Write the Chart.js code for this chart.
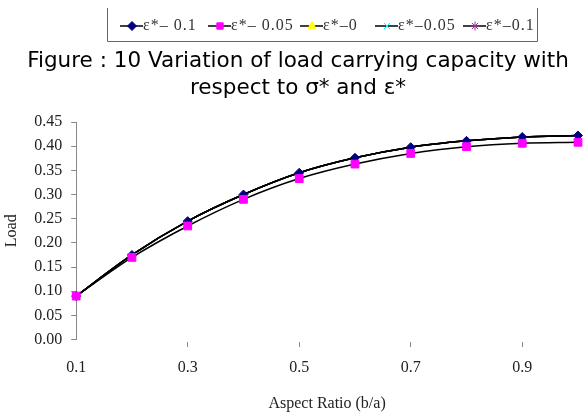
<!DOCTYPE html>
<html>
<head>
<meta charset="utf-8">
<script src="https://cdn.jsdelivr.net/npm/chart.js@4.4.0/dist/chart.umd.min.js"></script>
<style>
  html, body { margin: 0; background: #fff; }
  #wrap { width: 588px; height: 416px; }
</style>
</head>
<body>
<div id="wrap"><canvas id="loadChart"></canvas></div>
<script>
// aspect ratio (b/a) categories
const aspectRatios = ["0.1", "0.2", "0.3", "0.4", "0.5", "0.6", "0.7", "0.8", "0.9", "1.0"];
const seriesNames = ["\u03b5*\u2013 0.1", "\u03b5*\u2013 0.05", "\u03b5*\u20130", "\u03b5*\u20130.05", "\u03b5*\u20130.1"];
const titleLines = ["Figure : 10 Variation of load carrying capacity with", "respect to \u03c3* and \u03b5*"];

// load values
const loadEpsNeg010 = [0.090, 0.175, 0.245, 0.300, 0.345, 0.376, 0.398, 0.411, 0.419, 0.422];
const loadEpsNeg005 = [0.090, 0.170, 0.235, 0.290, 0.333, 0.363, 0.385, 0.399, 0.406, 0.408];
// these three sit under the upper curve, their markers are hidden
const loadEps000 = [0.090, 0.175, 0.245, 0.300, 0.345, 0.376, 0.398, 0.411, 0.419, 0.422];
const loadEps005 = [0.090, 0.175, 0.245, 0.300, 0.345, 0.376, 0.398, 0.411, 0.419, 0.422];
const loadEps010 = [0.090, 0.175, 0.245, 0.300, 0.345, 0.376, 0.398, 0.411, 0.419, 0.422];

const serif = "'Liberation Serif', 'Times New Roman', serif";

function series(label, data, style, color, radius, order) {
  return {
    label: label,
    data: data,
    borderColor: "#000",
    borderWidth: 1.5,
    cubicInterpolationMode: "monotone",
    pointStyle: style,
    pointRadius: radius,
    pointHoverRadius: radius,
    pointBackgroundColor: color,
    pointBorderColor: color,
    pointBorderWidth: 1,
    order: order
  };
}

// excel-like boxed legend row plus the figure caption above the plot
const legendAndCaption = {
  id: "legendAndCaption",
  afterDraw(chart) {
    const ctx = chart.ctx;
    ctx.save();
    ctx.strokeStyle = "#666";
    ctx.lineWidth = 1;
    ctx.beginPath();
    ctx.moveTo(107.5, 8);
    ctx.lineTo(107.5, 41.5);
    ctx.lineTo(537.5, 41.5);
    ctx.lineTo(537.5, 8);
    ctx.stroke();
    ctx.font = "16px " + serif;
    ctx.textBaseline = "middle";
    ctx.letterSpacing = "1px";
    const markerX = [132, 220, 312, 387, 475];
    const y = 26;
    chart.data.datasets.forEach((ds, i) => {
      const x = markerX[i];
      ctx.strokeStyle = "#000";
      ctx.lineWidth = 1.5;
      ctx.beginPath();
      ctx.moveTo(x - 12, y);
      ctx.lineTo(x + 11, y);
      ctx.stroke();
      ctx.fillStyle = ds.pointBackgroundColor;
      ctx.strokeStyle = ds.pointBorderColor;
      ctx.lineWidth = 1;
      Chart.helpers.drawPoint(ctx, { pointStyle: ds.pointStyle, radius: 4.5, borderWidth: 1 }, x, y);
      ctx.fillStyle = "#333";
      ctx.fillText(ds.label, x + 11, y);
    });
    ctx.letterSpacing = "0px";
    ctx.fillStyle = "#000";
    ctx.textAlign = "center";
    ctx.font = "21.5px 'DejaVu Sans', sans-serif";
    ctx.fillText(titleLines[0], 298, 61);
    ctx.fillText(titleLines[1], 298, 88);
    ctx.restore();
  }
};

const ctx = document.getElementById("loadChart").getContext("2d");

new Chart(ctx, {
  type: "line",
  data: {
    labels: aspectRatios,
    datasets: [
      series(seriesNames[0], loadEpsNeg010, "rectRot", "#000080", 4.5, 1),
      series(seriesNames[1], loadEpsNeg005, "rect", "#ff00ff", 5.5, 0),
      series(seriesNames[2], loadEps000, "triangle", "#ffff00", 2.5, 2),
      series(seriesNames[3], loadEps005, "crossRot", "#00ffff", 2.5, 3),
      series(seriesNames[4], loadEps010, "star", "#993399", 2.5, 4)
    ]
  },
  options: {
    responsive: true,
    maintainAspectRatio: false,
    animation: false,
    layout: { autoPadding: false, padding: { top: 122, right: 10, left: 2, bottom: 3 } },
    plugins: {
      legend: { display: false },
      tooltip: { enabled: false },
      title: { display: false }
    },
    scales: {
      x: {
        offset: false,
        border: { display: false },
        grid: {
          drawOnChartArea: false,
          tickLength: 19,
          tickBorderDash: [0, 2, 5, 60],
          color: c => (c.index > 0 && c.index % 2 === 0) ? "#888" : "rgba(0,0,0,0)"
        },
        ticks: {
          autoSkip: false,
          maxRotation: 0,
          padding: 0,
          color: "#222",
          font: { family: serif, size: 16 },
          callback: (v, i) => i % 2 === 0 ? aspectRatios[i] : ""
        },
        title: {
          display: true,
          text: "Aspect Ratio (b/a)",
          color: "#222",
          font: { family: serif, size: 16 },
          padding: { top: 16, bottom: 0 }
        }
      },
      y: {
        min: 0,
        max: 0.45,
        border: { color: "#888" },
        grid: { drawOnChartArea: false, tickLength: 5, color: "#888" },
        ticks: {
          stepSize: 0.05,
          padding: 9,
          color: "#222",
          font: { family: serif, size: 16 },
          callback: v => v.toFixed(2)
        },
        title: {
          display: true,
          text: "Load",
          color: "#222",
          font: { family: serif, size: 16 },
          padding: { top: 0, bottom: 4 }
        }
      }
    }
  },
  plugins: [legendAndCaption]
});
</script>
</body>
</html>
